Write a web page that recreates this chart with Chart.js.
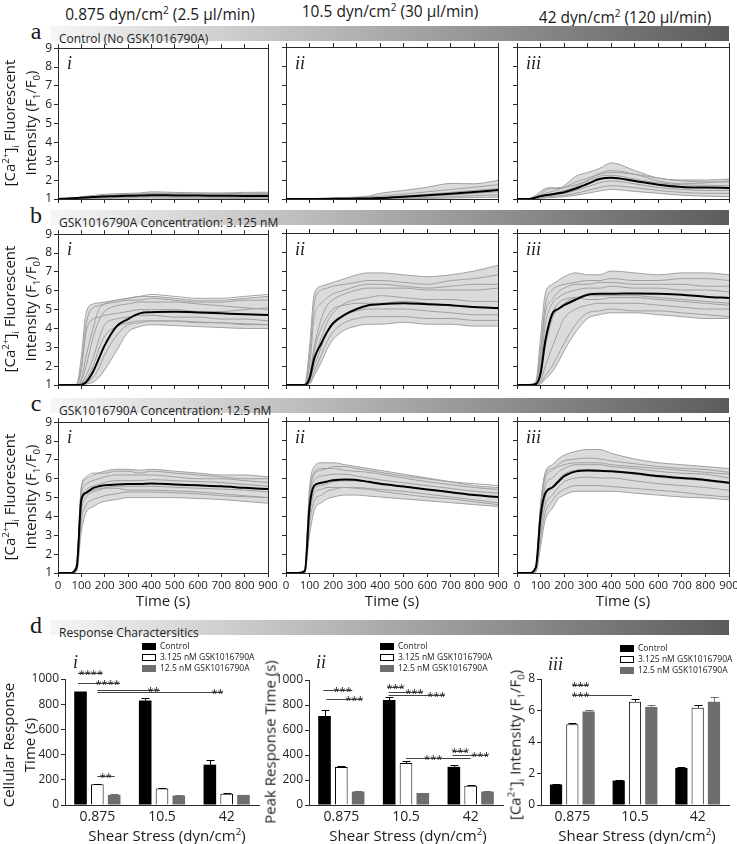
<!DOCTYPE html>
<html>
<head>
<meta charset="utf-8">
<script src="https://cdn.jsdelivr.net/npm/chart.js@4.4.0/dist/chart.umd.min.js"></script>
<style>
body { margin: 0; background: #fff; font-family: "Open Sans", sans-serif; color: #1a1a1a; }
#fig { position: relative; width: 737px; height: 844px; overflow: hidden; }
canvas { position: absolute; }
.t { position: absolute; white-space: nowrap; }
.c { transform: translate(-50%, -50%); }
.r { transform: translate(-50%, -50%) rotate(-90deg); text-align: center; }
.hdr { font-size: 15.5px; }
.band { position: absolute; left: 50px; width: 679px; height: 15px; background: linear-gradient(to right, #f6f6f6, #5c5c5c); }
.band span { font-family: "Liberation Sans Narrow", "Open Sans", sans-serif; font-size: 12px; color: #222; line-height: 15px; padding-left: 9px; }
.letter { font-family: "Liberation Serif", serif; font-size: 24px; }
.roman { font-family: "Liberation Serif", serif; font-style: italic; font-size: 18px; }
.ax { font-size: 15px; line-height: 21px; }
sup, sub { font-size: 65%; line-height: 0; }
.leg { position: absolute; font-size: 8.5px; line-height: 11px; }
.leg i { display: inline-block; width: 14px; height: 7px; margin-right: 4px; vertical-align: -1px; box-sizing: border-box; }
</style>
</head>
<body>
<div id="fig"></div>
<script>
// time axis of the calcium traces (s)
const times = [0, 50, 80, 100, 120, 150, 175, 200, 250, 300, 350, 400, 500, 600, 700, 800, 900];

// row a = control, row b = 3.125 nM, row c = 12.5 nM; column 1/2/3 = 0.875 / 10.5 / 42 dyn/cm2
const a1Mean = [1.0, 1.03, 1.05, 1.07, 1.08, 1.1, 1.12, 1.13, 1.15, 1.17, 1.18, 1.2, 1.19, 1.18, 1.17, 1.16, 1.16];
const a1Cells = [
    [1.0, 1.05, 1.08, 1.12, 1.15, 1.18, 1.22, 1.25, 1.28, 1.3, 1.32, 1.38, 1.35, 1.33, 1.32, 1.35, 1.36],
    [1.0, 1.04, 1.06, 1.09, 1.1, 1.13, 1.16, 1.18, 1.22, 1.24, 1.26, 1.3, 1.28, 1.27, 1.28, 1.3, 1.3],
    [1.0, 1.02, 1.04, 1.06, 1.07, 1.09, 1.11, 1.12, 1.14, 1.16, 1.18, 1.2, 1.2, 1.19, 1.2, 1.21, 1.22],
    [1.0, 1.01, 1.02, 1.03, 1.04, 1.05, 1.06, 1.07, 1.08, 1.09, 1.1, 1.11, 1.1, 1.1, 1.09, 1.09, 1.1],
    [1.0, 1.0, 1.01, 1.01, 1.02, 1.02, 1.03, 1.03, 1.04, 1.04, 1.05, 1.05, 1.04, 1.04, 1.03, 1.03, 1.04],
    [1.0, 1.03, 1.05, 1.08, 1.09, 1.12, 1.14, 1.16, 1.19, 1.2, 1.22, 1.25, 1.24, 1.22, 1.21, 1.23, 1.25]
];
const a2Mean = [1.0, 1.0, 1.0, 1.0, 1.0, 1.0, 1.0, 1.01, 1.01, 1.02, 1.03, 1.05, 1.12, 1.2, 1.28, 1.37, 1.47];
const a2Cells = [
    [1.0, 1.01, 1.02, 1.02, 1.03, 1.04, 1.05, 1.06, 1.08, 1.1, 1.15, 1.3, 1.45, 1.62, 1.82, 1.8, 1.98],
    [1.0, 1.01, 1.01, 1.02, 1.02, 1.03, 1.04, 1.05, 1.06, 1.08, 1.1, 1.15, 1.25, 1.38, 1.5, 1.62, 1.75],
    [1.0, 1.0, 1.01, 1.01, 1.02, 1.02, 1.03, 1.03, 1.04, 1.05, 1.06, 1.08, 1.15, 1.25, 1.35, 1.45, 1.55],
    [1.0, 1.0, 1.0, 1.0, 1.01, 1.01, 1.01, 1.02, 1.02, 1.03, 1.04, 1.05, 1.1, 1.15, 1.22, 1.3, 1.38],
    [1.0, 1.0, 1.0, 1.0, 1.0, 1.0, 1.01, 1.01, 1.01, 1.02, 1.02, 1.03, 1.05, 1.08, 1.12, 1.18, 1.22],
    [1.0, 1.0, 1.0, 1.0, 1.0, 1.0, 1.0, 1.0, 1.0, 1.01, 1.01, 1.01, 1.02, 1.03, 1.05, 1.08, 1.1]
];
const a3Mean = [1.0, 1.0, 1.08, 1.15, 1.2, 1.25, 1.3, 1.36, 1.55, 1.8, 2.05, 2.12, 1.95, 1.75, 1.63, 1.6, 1.58];
const a3Cells = [
    [1.0, 1.02, 1.2, 1.4, 1.55, 1.6, 1.55, 1.7, 2.2, 2.4, 2.6, 2.9, 2.5, 2.1, 2.0, 2.0, 2.05],
    [1.0, 1.0, 1.1, 1.2, 1.3, 1.4, 1.5, 1.6, 1.9, 2.1, 2.3, 2.4, 2.3, 2.1, 1.95, 1.9, 1.9],
    [1.0, 1.0, 1.08, 1.15, 1.2, 1.28, 1.35, 1.45, 1.65, 1.95, 2.2, 2.25, 2.05, 1.85, 1.75, 1.72, 1.7],
    [1.0, 1.0, 1.05, 1.1, 1.15, 1.2, 1.25, 1.3, 1.45, 1.65, 1.85, 1.95, 1.8, 1.6, 1.5, 1.45, 1.45],
    [1.0, 1.0, 1.03, 1.06, 1.1, 1.13, 1.17, 1.2, 1.3, 1.45, 1.6, 1.7, 1.6, 1.45, 1.35, 1.3, 1.3],
    [1.0, 1.0, 1.02, 1.04, 1.06, 1.08, 1.1, 1.12, 1.2, 1.3, 1.42, 1.5, 1.4, 1.3, 1.2, 1.15, 1.12],
    [1.0, 1.0, 1.1, 1.25, 1.45, 1.55, 1.6, 1.62, 1.75, 2.0, 2.35, 2.5, 2.3, 1.95, 1.8, 1.85, 1.95]
];
const b1Mean = [1.0, 1.0, 1.0, 1.02, 1.15, 1.7, 2.4, 3.1, 4.1, 4.5, 4.8, 4.86, 4.88, 4.85, 4.8, 4.75, 4.72];
const b1Cells = [
    [1, 1, 1.05, 2.5, 4.8, 5.3, 5.35, 5.4, 5.5, 5.6, 5.7, 5.7, 5.6, 5.5, 5.5, 5.6, 5.7],
    [1, 1, 1.02, 1.8, 3.8, 4.5, 4.6, 4.7, 4.8, 4.9, 5.0, 5.0, 5.0, 4.9, 4.9, 5.0, 5.1],
    [1, 1, 1, 1.2, 2.0, 3.5, 4.4, 4.9, 5.2, 5.3, 5.4, 5.4, 5.4, 5.3, 5.2, 5.1, 5.0],
    [1, 1, 1, 1.1, 1.5, 2.4, 3.4, 4.2, 4.5, 4.6, 4.7, 4.7, 4.6, 4.6, 4.5, 4.5, 4.4],
    [1, 1, 1, 1.02, 1.1, 1.4, 1.9, 2.6, 3.6, 4.2, 4.3, 4.4, 4.4, 4.3, 4.3, 4.2, 4.2],
    [1, 1, 1, 1, 1.05, 1.15, 1.4, 1.8, 2.8, 3.8, 4.1, 4.2, 4.15, 4.1, 4.05, 4.0, 4.0],
    [1, 1, 1.03, 2.0, 4.2, 5.1, 5.2, 5.3, 5.4, 5.5, 5.5, 5.6, 5.5, 5.4, 5.4, 5.5, 5.5],
    [1, 1, 1, 1.3, 2.5, 4.0, 5.0, 5.3, 5.5, 5.6, 5.7, 5.8, 5.7, 5.6, 5.6, 5.7, 5.8],
    [1, 1, 1, 1.05, 1.3, 2.0, 2.9, 3.6, 4.1, 4.3, 4.4, 4.4, 4.4, 4.35, 4.3, 4.25, 4.2]
];
const b2Mean = [1.0, 1.0, 1.0, 1.35, 2.4, 3.2, 3.8, 4.25, 4.7, 5.0, 5.2, 5.25, 5.3, 5.25, 5.2, 5.1, 5.05];
const b2Cells = [
    [1, 1, 1.05, 3.0, 5.8, 6.2, 6.3, 6.4, 6.6, 6.8, 6.9, 6.9, 6.8, 6.7, 6.8, 7.0, 7.3],
    [1, 1, 1.03, 2.5, 5.3, 6.0, 6.1, 6.2, 6.3, 6.4, 6.5, 6.5, 6.4, 6.3, 6.5, 6.6, 6.8],
    [1, 1, 1, 1.5, 3.0, 4.5, 5.2, 5.5, 5.8, 6.0, 6.1, 6.1, 6.1, 6.0, 6.0, 6.0, 6.1],
    [1, 1, 1, 1.3, 2.4, 3.5, 4.3, 4.8, 5.3, 5.5, 5.6, 5.7, 5.6, 5.5, 5.5, 5.4, 5.4],
    [1, 1, 1, 1.2, 2.0, 3.0, 3.8, 4.3, 4.7, 4.9, 5.0, 5.0, 5.0, 4.9, 4.8, 4.7, 4.7],
    [1, 1, 1, 1.1, 1.7, 2.6, 3.3, 3.8, 4.3, 4.5, 4.6, 4.6, 4.6, 4.5, 4.5, 4.4, 4.4],
    [1, 1, 1, 1.05, 1.5, 2.2, 2.9, 3.4, 3.9, 4.1, 4.2, 4.2, 4.3, 4.2, 4.2, 4.1, 4.1],
    [1, 1, 1.02, 2.0, 4.6, 5.3, 5.6, 5.8, 6.0, 6.2, 6.3, 6.3, 6.2, 6.1, 6.2, 6.3, 6.3],
    [1, 1, 1, 1.4, 2.8, 4.0, 4.6, 5.0, 5.2, 5.3, 5.3, 5.3, 5.4, 5.3, 5.2, 5.1, 5.0]
];
const b3Mean = [1.0, 1.0, 1.05, 1.6, 3.3, 4.75, 5.0, 5.2, 5.5, 5.75, 5.8, 5.8, 5.82, 5.8, 5.75, 5.65, 5.58];
const b3Cells = [
    [1, 1, 1.2, 3.5, 5.8, 6.3, 6.5, 6.7, 6.9, 6.8, 6.8, 7.0, 6.9, 6.8, 6.9, 6.9, 6.8],
    [1, 1, 1.1, 2.8, 5.2, 6.0, 6.2, 6.3, 6.4, 6.5, 6.5, 6.6, 6.5, 6.5, 6.6, 6.6, 6.5],
    [1, 1, 1.05, 2.0, 4.2, 5.3, 5.6, 5.8, 6.0, 6.1, 6.1, 6.2, 6.1, 6.1, 6.0, 6.0, 5.9],
    [1, 1, 1.03, 1.5, 3.0, 4.5, 5.0, 5.3, 5.6, 5.7, 5.7, 5.7, 5.7, 5.6, 5.5, 5.4, 5.3],
    [1, 1, 1, 1.2, 2.0, 3.0, 3.8, 4.5, 5.0, 5.2, 5.3, 5.3, 5.3, 5.2, 5.1, 5.0, 5.0],
    [1, 1, 1, 1.1, 1.5, 2.0, 2.6, 3.2, 4.2, 4.8, 4.9, 5.0, 4.9, 4.9, 4.8, 4.7, 4.6],
    [1, 1, 1, 1.05, 1.3, 1.7, 2.2, 2.8, 3.8, 4.5, 4.7, 4.8, 4.8, 4.7, 4.6, 4.5, 4.5],
    [1, 1, 1.1, 2.5, 4.8, 5.5, 5.9, 6.1, 6.3, 6.3, 6.4, 6.4, 6.3, 6.3, 6.3, 6.2, 6.2],
    [1, 1, 1.05, 1.8, 3.5, 4.8, 5.3, 5.5, 5.6, 5.5, 5.5, 5.6, 5.6, 5.5, 5.4, 5.3, 5.2]
];
const c1Mean = [1.0, 1.0, 1.3, 4.9, 5.25, 5.5, 5.6, 5.65, 5.7, 5.72, 5.72, 5.75, 5.7, 5.65, 5.6, 5.52, 5.45];
const c1Cells = [
    [1, 1, 1.5, 5.5, 6.0, 6.2, 6.3, 6.4, 6.5, 6.5, 6.45, 6.5, 6.4, 6.3, 6.2, 6.2, 6.1],
    [1, 1, 1.4, 5.2, 5.7, 5.9, 6.0, 6.1, 6.2, 6.2, 6.2, 6.2, 6.1, 6.0, 6.0, 5.9, 5.8],
    [1, 1, 1.3, 4.8, 5.4, 5.6, 5.7, 5.8, 5.9, 5.9, 5.9, 5.95, 5.9, 5.85, 5.8, 5.7, 5.6],
    [1, 1, 1.2, 4.3, 5.0, 5.3, 5.4, 5.5, 5.6, 5.6, 5.6, 5.6, 5.55, 5.5, 5.45, 5.4, 5.3],
    [1, 1, 1.1, 3.8, 4.6, 4.9, 5.0, 5.1, 5.2, 5.3, 5.3, 5.3, 5.25, 5.2, 5.1, 5.05, 5.0],
    [1, 1, 1.1, 3.2, 4.2, 4.5, 4.7, 4.8, 4.9, 5.0, 5.0, 5.0, 5.0, 4.95, 4.9, 4.8, 4.7],
    [1, 1, 1.5, 5.6, 6.1, 6.3, 6.3, 6.3, 6.4, 6.4, 6.3, 6.4, 6.3, 6.2, 6.1, 6.0, 6.0],
    [1, 1, 1.2, 4.6, 5.2, 5.4, 5.5, 5.5, 5.5, 5.4, 5.4, 5.4, 5.35, 5.3, 5.2, 5.1, 5.0]
];
const c2Mean = [1.0, 1.0, 1.1, 4.5, 5.6, 5.75, 5.82, 5.88, 5.92, 5.9, 5.8, 5.7, 5.55, 5.4, 5.25, 5.1, 5.0];
const c2Cells = [
    [1, 1, 1.2, 5.5, 6.6, 6.8, 6.8, 6.8, 6.7, 6.6, 6.5, 6.4, 6.2, 6.0, 5.8, 5.6, 5.5],
    [1, 1, 1.2, 5.2, 6.3, 6.5, 6.5, 6.5, 6.4, 6.35, 6.3, 6.2, 6.0, 5.8, 5.65, 5.5, 5.4],
    [1, 1, 1.1, 4.8, 5.9, 6.1, 6.15, 6.2, 6.2, 6.1, 6.0, 5.9, 5.75, 5.6, 5.45, 5.3, 5.2],
    [1, 1, 1.1, 4.2, 5.4, 5.6, 5.7, 5.8, 5.85, 5.85, 5.8, 5.7, 5.55, 5.4, 5.25, 5.1, 5.0],
    [1, 1, 1.05, 3.6, 4.8, 5.1, 5.3, 5.4, 5.5, 5.5, 5.45, 5.4, 5.3, 5.15, 5.0, 4.85, 4.7],
    [1, 1, 1.05, 3.0, 4.3, 4.7, 4.9, 5.0, 5.1, 5.1, 5.05, 5.0, 4.9, 4.8, 4.7, 4.6, 4.5],
    [1, 1, 1.15, 5.0, 6.2, 6.4, 6.5, 6.6, 6.6, 6.5, 6.4, 6.3, 6.1, 5.95, 5.8, 5.7, 5.6],
    [1, 1, 1.1, 4.0, 5.2, 5.4, 5.5, 5.5, 5.5, 5.45, 5.4, 5.3, 5.15, 5.0, 4.9, 4.75, 4.6]
];
const c3Mean = [1.0, 1.0, 1.3, 4.0, 5.2, 5.5, 5.8, 6.1, 6.35, 6.4, 6.38, 6.35, 6.25, 6.1, 6.0, 5.9, 5.75];
const c3Cells = [
    [1, 1, 1.3, 4.5, 6.3, 6.7, 7.0, 7.2, 7.4, 7.5, 7.5, 7.3, 7.0, 6.8, 6.7, 6.6, 6.5],
    [1, 1, 1.3, 4.3, 6.0, 6.4, 6.7, 6.9, 7.0, 7.05, 7.0, 6.9, 6.75, 6.6, 6.5, 6.45, 6.3],
    [1, 1, 1.2, 4.0, 5.6, 6.0, 6.3, 6.5, 6.7, 6.7, 6.7, 6.6, 6.5, 6.35, 6.25, 6.2, 6.0],
    [1, 1, 1.2, 3.6, 5.0, 5.5, 5.9, 6.2, 6.4, 6.45, 6.4, 6.35, 6.2, 6.05, 5.95, 5.85, 5.7],
    [1, 1, 1.1, 3.2, 4.6, 5.1, 5.5, 5.8, 6.0, 6.05, 6.0, 6.0, 5.85, 5.7, 5.6, 5.5, 5.35],
    [1, 1, 1.1, 2.8, 4.2, 4.8, 5.2, 5.4, 5.6, 5.6, 5.6, 5.55, 5.45, 5.35, 5.25, 5.1, 5.0],
    [1, 1, 1.05, 2.4, 3.8, 4.4, 4.9, 5.1, 5.3, 5.3, 5.3, 5.3, 5.2, 5.1, 5.0, 4.95, 4.85],
    [1, 1, 1.25, 4.6, 6.2, 6.5, 6.6, 6.7, 6.8, 6.8, 6.8, 6.7, 6.6, 6.5, 6.4, 6.3, 6.2]
];
// which cell trace is the lowest one in each panel (the band is shaded from the first trace down to it)
const lowestCell = [[4, 5, 5], [5, 6, 6], [5, 5, 6]];

// bar charts (d)
const shearLabels = ['0.875', '10.5', '42'];
const groupNames = ['Control', '3.125 nM GSK1016790A', '12.5 nM GSK1016790A'];
const respCtrl = [900, 830, 320], respCtrlErr = [0, 20, 40];
const respLow = [165, 130, 90], respLowErr = [5, 3, 3];
const respHigh = [80, 75, 80], respHighErr = [4, 3, 3];
const peakCtrl = [712, 840, 305], peakCtrlErr = [50, 24, 15];
const peakLow = [304, 336, 155], peakLowErr = [8, 16, 5];
const peakHigh = [107, 96, 107], peakHighErr = [4, 4, 4];
const ampCtrl = [1.3, 1.55, 2.35], ampCtrlErr = [0.05, 0.05, 0.08];
const ampLow = [5.12, 6.56, 6.18], ampLowErr = [0.08, 0.2, 0.15];
const ampHigh = [5.93, 6.22, 6.56], ampHighErr = [0.08, 0.12, 0.28];
// significance bars: y in data units, x in category units, label position "at"
const respMarks = [
    {y: 1048, x1: -0.3, x2: 0.08, at: -0.1, text: '****'},
    {y: 968, x1: -0.3, x2: 0.35, at: 0.16, text: '****'},
    {y: 913, x1: 0, x2: 0.97, at: 0.87, text: '**'},
    {y: 897, x1: 0, x2: 1.94, at: 1.86, text: '**'},
    {y: 230, x1: 0, x2: 0.27, at: 0.13, text: '**'}
];
const peakMarks = [
    {y: 920, x1: -0.28, x2: 0.17, at: 0.02, text: '***'},
    {y: 848, x1: -0.23, x2: 0.33, at: 0.2, text: '***'},
    {y: 944, x1: 0.71, x2: 0.96, at: 0.84, text: '***'},
    {y: 904, x1: 0.73, x2: 1.26, at: 1.13, text: '***'},
    {y: 880, x1: 0.73, x2: 1.6, at: 1.47, text: '***'},
    {y: 376, x1: 1.0, x2: 2.0, at: 1.42, text: '***'},
    {y: 432, x1: 1.72, x2: 1.95, at: 1.84, text: '***'},
    {y: 400, x1: 1.72, x2: 2.26, at: 2.15, text: '***'}
];
const ampMarks = [
    {y: 7.62, x1: 0, x2: 0.26, at: 0.13, text: '***'},
    {y: 6.98, x1: 0, x2: 0.95, at: 0.13, text: '***'}
];

Chart.defaults.font.family = 'Open Sans';
const fig = document.getElementById('fig');
const ink = '#2a2a2a';
const traceGray = '#a0a0a0';
const groupFill = ['#000000', '#ffffff', '#6e6e6e'];
const groupEdge = ['#000000', '#000000', '#6e6e6e'];

function addText(html, x, y, cls) {
    var d = document.createElement('div');
    d.className = 't ' + cls;
    d.innerHTML = html;
    d.style.left = x + 'px';
    d.style.top = y + 'px';
    fig.appendChild(d);
    return d;
}

function makeCanvas(x, y, w, h) {
    var c = document.createElement('canvas');
    c.width = w; c.height = h;
    c.style.left = x + 'px'; c.style.top = y + 'px';
    c.style.width = w + 'px'; c.style.height = h + 'px';
    fig.appendChild(c);
    return c;
}

// panel geometry (plot areas)
const colLeft = [58, 286, 517];
const colWidth = [210, 212, 212];
const rowTop = [47, 233, 421];
const plotH = 152;

function tracePanel(col, row, mean, cells, low) {
    var L = colLeft[col], W = colWidth[col], T = rowTop[row];
    var withY = col === 0, withX = row === 2;
    var yW = withY ? 22 : 6, topH = 8, rightW = 16, botH = withX ? 26 : 10;
    var c = makeCanvas(L - yW, T - topH, yW + W + rightW, topH + plotH + botH);
    var pts = v => times.map((t, k) => ({x: t, y: v[k]}));
    var datasets = [{data: pts(mean), borderColor: '#000', borderWidth: 2, fill: false}]
        .concat(cells.map((v, n) => ({
            data: pts(v), borderColor: traceGray, borderWidth: 1,
            fill: n === 0 ? {target: 1 + low} : false,
            backgroundColor: 'rgba(165,165,165,0.4)'
        })));
    var tickGrid = {drawOnChartArea: false, tickLength: 4, color: ink};
    new Chart(c, {
        type: 'line',
        data: {datasets: datasets},
        options: {
            responsive: false, animation: false, devicePixelRatio: 1,
            layout: {padding: 0},
            elements: {point: {radius: 0}, line: {cubicInterpolationMode: 'monotone'}},
            plugins: {legend: {display: false}, tooltip: {enabled: false}, filler: {drawTime: 'beforeDatasetsDraw'}},
            scales: {
                x: {type: 'linear', position: 'bottom', min: 0, max: 900,
                    ticks: {stepSize: 100, display: withX, autoSkip: false, maxRotation: 0, padding: 2,
                            font: {size: 11.5}, color: '#222'},
                    grid: tickGrid, border: {color: ink},
                    afterFit: s => { s.height = botH; }},
                xTop: {type: 'linear', position: 'top', min: 0, max: 900,
                    ticks: {stepSize: 100, display: false},
                    grid: tickGrid, border: {color: ink},
                    afterFit: s => { s.height = topH; }},
                y: {type: 'linear', position: 'left', min: 1, max: 9,
                    ticks: {stepSize: 1, display: withY, padding: 2, font: {size: 12}, color: '#222'},
                    grid: tickGrid, border: {color: ink},
                    afterFit: s => { s.width = yW; }},
                yR: {type: 'linear', position: 'right', min: 0, max: 1,
                    ticks: {display: false},
                    grid: {drawOnChartArea: false, drawTicks: false}, border: {color: ink},
                    afterFit: s => { s.width = rightW; }}
            }
        }
    });
}

const errPlugin = {
    id: 'errs',
    afterDatasetsDraw(chart) {
        var ctx = chart.ctx, ys = chart.scales.y;
        ctx.save();
        ctx.lineWidth = 1;
        chart.data.datasets.forEach((ds, i) => {
            chart.getDatasetMeta(i).data.forEach((bar, j) => {
                var e = ds.err[j];
                if (!e) return;
                var top = Math.round(ys.getPixelForValue(ds.data[j] + e)) + 0.5;
                var x = Math.round(bar.x) + 0.5;
                ctx.strokeStyle = groupEdge[i];
                ctx.beginPath();
                ctx.moveTo(x, bar.y);
                ctx.lineTo(x, top);
                ctx.moveTo(x - 4, top);
                ctx.lineTo(x + 4, top);
                ctx.stroke();
            });
        });
        ctx.restore();
    }
};

const sigPlugin = {
    id: 'sig',
    afterDatasetsDraw(chart, args, opts) {
        var ctx = chart.ctx, xs = chart.scales.x, ys = chart.scales.y;
        var x0 = xs.getPixelForValue(0), cw = xs.getPixelForValue(1) - x0;
        ctx.save();
        ctx.strokeStyle = '#444';
        ctx.fillStyle = '#222';
        ctx.lineWidth = 1;
        ctx.font = '11px "Open Sans"';
        ctx.textAlign = 'center';
        ctx.textBaseline = 'alphabetic';
        (opts.marks || []).forEach(m => {
            var y = Math.round(ys.getPixelForValue(m.y)) + 0.5;
            ctx.beginPath();
            ctx.moveTo(x0 + m.x1 * cw, y);
            ctx.lineTo(x0 + m.x2 * cw, y);
            ctx.stroke();
            ctx.fillText(m.text, x0 + m.at * cw, y + 4);
        });
        ctx.restore();
    }
};

function barPanel(o) {
    var yW = 40, padTop = 40, botH = 24, padR = 12;
    var c = makeCanvas(o.left - yW, o.top - padTop, yW + o.w + padR, padTop + o.h + botH);
    var datasets = groupNames.map((g, i) => ({
        label: g, data: o.values[i], err: o.errs[i],
        backgroundColor: groupFill[i], borderColor: groupEdge[i],
        borderWidth: i === 1 ? 1 : 0,
        barPercentage: 0.75, categoryPercentage: 0.78
    }));
    new Chart(c, {
        type: 'bar',
        data: {labels: shearLabels, datasets: datasets},
        options: {
            responsive: false, animation: false, devicePixelRatio: 1,
            layout: {padding: {top: padTop, right: padR}},
            plugins: {legend: {display: false}, tooltip: {enabled: false}, sig: {marks: o.marks}},
            scales: {
                x: {ticks: {font: {size: 14}, color: '#222', padding: 4},
                    grid: {drawOnChartArea: false, drawTicks: false}, border: {color: ink},
                    afterFit: s => { s.height = botH; }},
                y: {min: 0, max: o.yMax,
                    ticks: {stepSize: o.step, font: {size: 12}, color: '#222', padding: 2,
                            callback: v => String(v)},
                    grid: {drawOnChartArea: false, tickLength: 4, color: ink}, border: {color: ink},
                    afterFit: s => { s.width = yW; }}
            }
        },
        plugins: [errPlugin, sigPlugin]
    });
}

// ---- headers and section bands ----
addText('0.875 dyn/cm<sup>2</sup> (2.5 µl/min)', 160, 14, 'c hdr');
addText('10.5 dyn/cm<sup>2</sup> (30 µl/min)', 390, 11, 'c hdr');
addText('42 dyn/cm<sup>2</sup> (120 µl/min)', 625, 17, 'c hdr');

const bandTexts = ['Control (No GSK1016790A)', 'GSK1016790A Concentration: 3.125 nM',
                   'GSK1016790A Concentration: 12.5 nM', 'Response Charactersitics'];
const bandTops = [26, 210, 398, 620];
const bandLetters = ['a', 'b', 'c', 'd'];
bandTexts.forEach((txt, i) => {
    var b = document.createElement('div');
    b.className = 'band';
    b.style.top = bandTops[i] + 'px';
    b.innerHTML = '<span>' + txt + '</span>';
    fig.appendChild(b);
    addText(bandLetters[i], 36, bandTops[i] + 5, 'c letter');
});

// ---- calcium traces ----
const allMeans = [[a1Mean, a2Mean, a3Mean], [b1Mean, b2Mean, b3Mean], [c1Mean, c2Mean, c3Mean]];
const allCells = [[a1Cells, a2Cells, a3Cells], [b1Cells, b2Cells, b3Cells], [c1Cells, c2Cells, c3Cells]];
const romans = ['i', 'ii', 'iii'];
for (var r = 0; r < 3; r++) {
    for (var k = 0; k < 3; k++) {
        tracePanel(k, r, allMeans[r][k], allCells[r][k], lowestCell[r][k]);
        addText(romans[k], colLeft[k] + 9, rowTop[r] + 6, 'roman');
    }
    addText('[Ca<sup>2+</sup>]<sub>i</sub> Fluorescent<br>Intensity (F<sub>1</sub>/F<sub>0</sub>)',
            20, rowTop[r] + plotH / 2, 'r ax');
}
for (var k = 0; k < 3; k++) {
    addText('Time (s)', colLeft[k] + colWidth[k] / 2, 600, 'c ax');
}

// ---- response characteristics ----
barPanel({left: 65, top: 679, w: 194, h: 126, yMax: 1000, step: 200,
          values: [respCtrl, respLow, respHigh], errs: [respCtrlErr, respLowErr, respHighErr], marks: respMarks});
barPanel({left: 309, top: 680, w: 194, h: 125, yMax: 1000, step: 200,
          values: [peakCtrl, peakLow, peakHigh], errs: [peakCtrlErr, peakLowErr, peakHighErr], marks: peakMarks});
barPanel({left: 541, top: 679, w: 188, h: 126, yMax: 8, step: 2,
          values: [ampCtrl, ampLow, ampHigh], errs: [ampCtrlErr, ampLowErr, ampHighErr], marks: ampMarks});

addText('Cellular Response<br>Time (s)', 19, 745, 'r ax');
addText('Peak Response Time (s)', 270, 742, 'r ax');
addText('[Ca<sup>2+</sup>]<sub>i</sub> Intensity (F<sub>1</sub>/F<sub>0</sub>)', 515, 745, 'r ax');
[167, 408, 637].forEach(x => addText('Shear Stress (dyn/cm<sup>2</sup>)', x, 835, 'c ax'));
addText('i', 73, 652, 'roman');
addText('ii', 316, 652, 'roman');
addText('iii', 548, 654, 'roman');

const legendLefts = [142, 380, 620];
const legendTops = [640, 640, 642];
legendLefts.forEach((x, n) => {
    var d = document.createElement('div');
    d.className = 'leg';
    d.style.left = x + 'px';
    d.style.top = legendTops[n] + 'px';
    d.innerHTML = groupNames.map((g, i) =>
        '<div><i style="background:' + groupFill[i] + ';border:1px solid ' + groupEdge[i] + '"></i>' + g + '</div>').join('');
    fig.appendChild(d);
});
</script>
</body>
</html>
